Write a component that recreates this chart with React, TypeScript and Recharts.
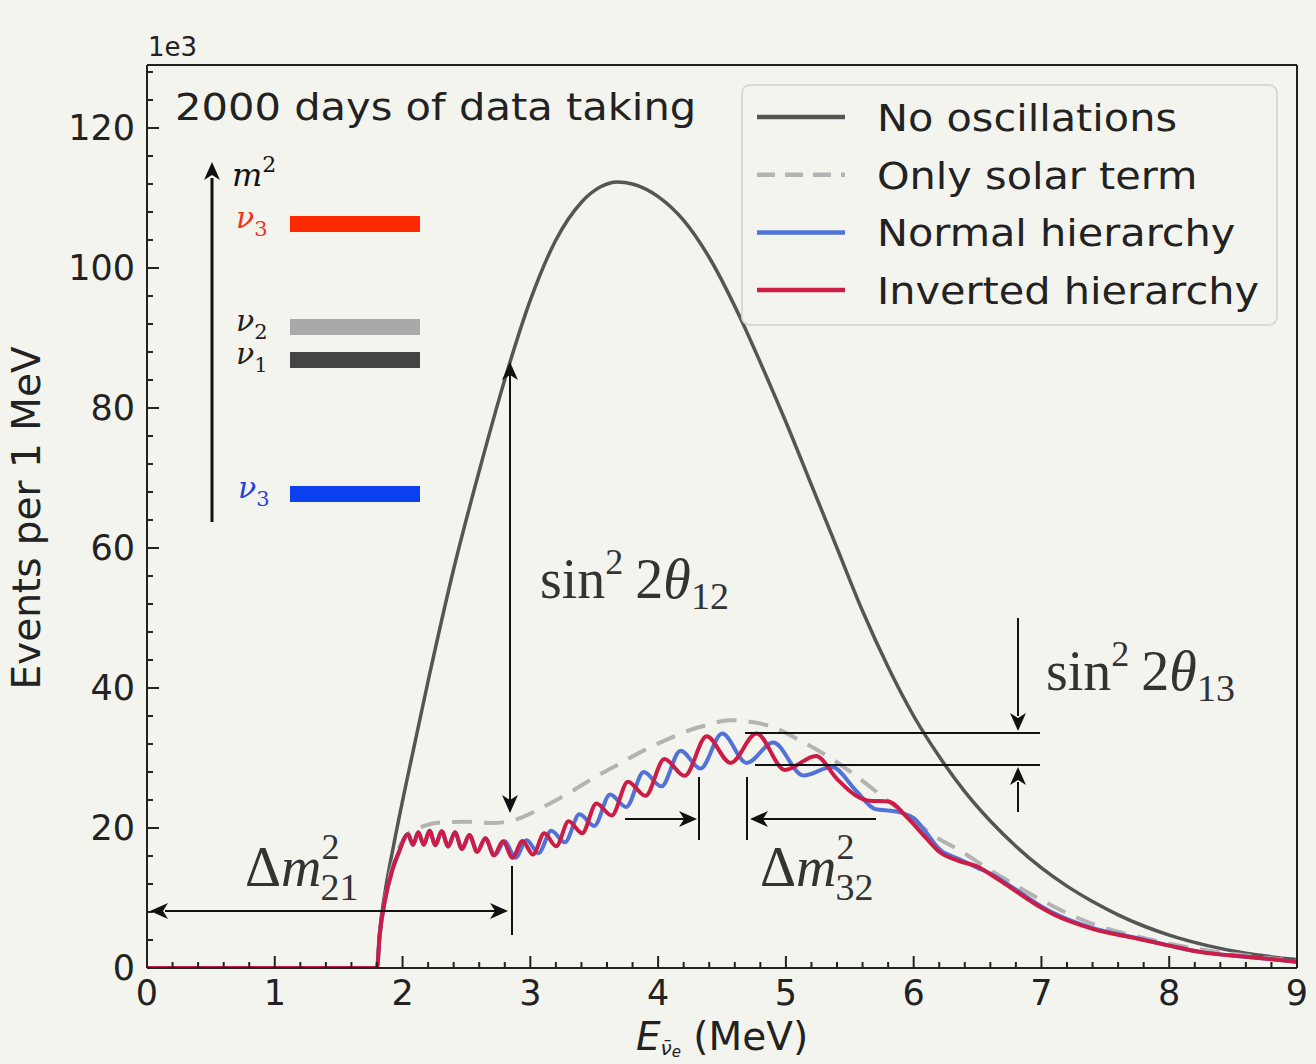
import React from 'react';
import { LineChart, Line, XAxis, YAxis } from 'recharts';

// energies (MeV) and events (x1e3)
const noOscE = [0, 1.8, 1.82, 1.86, 1.93, 2.03, 2.2, 2.4, 2.6, 2.84, 3.0, 3.2, 3.4, 3.55, 3.68, 3.8, 4.0, 4.2, 4.4, 4.64, 4.8, 5.0, 5.2, 5.4, 5.6, 5.8, 6.0, 6.2, 6.4, 6.6, 6.8, 7.0, 7.2, 7.4, 7.6, 7.8, 8.0, 8.3, 8.6, 9.0];
const noOscN = [0, 0, 5, 10.5, 17.5, 26.5, 41, 57, 71, 86.5, 95.4, 104, 109.4, 111.6, 112.3, 112, 110.2, 106.8, 101.5, 93, 86.5, 78, 69, 60, 51, 43, 36, 30.2, 25.2, 21.0, 17.4, 14.3, 11.7, 9.5, 7.6, 6.0, 4.7, 3.2, 2.1, 1.2];

const solarE = [0, 1.8, 1.82, 1.86, 1.92, 1.98, 2.05, 2.14, 2.3, 2.5, 2.7, 2.9, 3.1, 3.31, 3.5, 3.7, 3.9, 4.09, 4.25, 4.38, 4.56, 4.75, 4.9, 5.11, 5.34, 5.56, 5.79, 5.95, 6.15, 6.36, 6.6, 6.8, 7.04, 7.4, 7.8, 8.2, 8.6, 9.0];
const solarN = [0, 0, 4.5, 9.5, 14.5, 17.5, 19.3, 20.1, 20.8, 20.9, 20.7, 21.3, 23.0, 25.1, 27.2, 29.2, 31.2, 32.8, 34.0, 34.7, 35.4, 35.1, 34.4, 32.5, 30.1, 27.3, 24.0, 21.8, 19.0, 16.8, 14.0, 11.8, 9.3, 6.3, 4.3, 2.8, 1.8, 1.0];

const normalE = [0, 1.8, 1.82, 1.86, 1.92, 1.97, 2.042, 2.082, 2.123, 2.166, 2.211, 2.257, 2.306, 2.357, 2.41, 2.465, 2.523, 2.584, 2.648, 2.72, 2.8, 2.883, 2.971, 3.064, 3.164, 3.27, 3.384, 3.5, 3.624, 3.751, 3.887, 4.026, 4.175, 4.332, 4.501, 4.693, 4.901, 5.136, 5.36, 5.55, 5.7, 5.85, 6.0, 6.1, 6.2, 6.35, 6.5, 6.6, 6.75, 7.0, 7.1, 7.4, 7.72, 8.0, 8.24, 8.6, 9.0];
const normalN = [0, 0, 4.5, 9.5, 14, 16.5, 19.1, 17.6, 19.4, 17.6, 19.6, 17.55, 19.55, 17.35, 19.4, 17.0, 19.0, 16.6, 18.55, 16.1, 18.1, 15.75, 18.25, 16.4, 19.6, 17.95, 21.95, 20.3, 24.8, 23.0, 28.0, 25.95, 31.05, 28.5, 33.5, 29.3, 32.2, 27.5, 28.7, 25.3, 22.7, 22.4, 21.4, 19.3, 17.0, 15.6, 14.3, 13.5, 11.8, 8.8, 7.8, 5.7, 4.4, 3.2, 2.3, 1.6, 0.9];

const invertedE = [0, 1.8, 1.82, 1.86, 1.92, 1.97, 2.042, 2.082, 2.123, 2.166, 2.211, 2.257, 2.306, 2.357, 2.41, 2.465, 2.523, 2.584, 2.648, 2.715, 2.786, 2.86, 2.938, 3.021, 3.109, 3.202, 3.3, 3.405, 3.517, 3.637, 3.764, 3.901, 4.049, 4.208, 4.38, 4.567, 4.77, 4.992, 5.236, 5.4, 5.55, 5.65, 5.8, 5.95, 6.1, 6.2, 6.35, 6.5, 6.6, 6.75, 7.0, 7.1, 7.4, 7.72, 8.0, 8.24, 8.6, 9.0];
const invertedN = [0, 0, 4.5, 9.5, 14, 16.5, 19.1, 17.6, 19.4, 17.6, 19.6, 17.55, 19.55, 17.35, 19.4, 17.0, 19.0, 16.6, 18.55, 16.1, 18.1, 15.75, 18.15, 16.2, 19.25, 17.4, 20.95, 19.25, 23.5, 21.8, 26.6, 24.6, 29.85, 27.45, 33.1, 29.3, 33.5, 28.3, 30.3, 27.0, 24.6, 23.9, 23.8, 21.5, 18.5, 16.6, 15.3, 14.5, 13.4, 11.6, 8.6, 7.6, 5.6, 4.3, 3.2, 2.3, 1.6, 0.9];

const xMajor = [0, 1, 2, 3, 4, 5, 6, 7, 8, 9];
const yMajor = [0, 20, 40, 60, 80, 100, 120];

const xTicks = Array.from({ length: 46 }, (_, i) => Math.round(i * 2) / 10);
const yTicks = Array.from({ length: 33 }, (_, i) => i * 4);

const zip = (es: number[], ns: number[]) => es.map((e, i) => ({ e, n: ns[i] }));

const BG = '#f4f4ef';
const INK = '#222';

// plot box in page pixels
const L = 147, R = 1297, T = 65, B = 968;

const XTick = (props: any) => {
  const { x, y, payload } = props;
  const v = payload.value;
  const major = xMajor.includes(v);
  return (
    <g>
      <line x1={x} y1={y} x2={x} y2={y - (major ? 12 : 6)} stroke={INK} strokeWidth={2} />
      {major && (
        <text x={x} y={y + 37} textAnchor="middle" fontSize={35} fill={INK} fontFamily="DejaVu Sans">
          {v}
        </text>
      )}
    </g>
  );
};

const YTick = (props: any) => {
  const { x, y, payload } = props;
  const v = payload.value;
  const major = yMajor.includes(v);
  return (
    <g>
      <line x1={x} y1={y} x2={x + (major ? 12 : 6)} y2={y} stroke={INK} strokeWidth={2} />
      {major && (
        <text x={x - 12} y={y + 12} textAnchor="end" fontSize={35} fill={INK} fontFamily="DejaVu Sans">
          {v}
        </text>
      )}
    </g>
  );
};

const Head = ({ x, y, dir }: { x: number; y: number; dir: 'up' | 'down' | 'left' | 'right' }) => {
  const l = 18, w = 8;
  let pts = '';
  if (dir === 'up') pts = `${x},${y} ${x - w},${y + l} ${x},${y + l - 5} ${x + w},${y + l}`;
  if (dir === 'down') pts = `${x},${y} ${x - w},${y - l} ${x},${y - l + 5} ${x + w},${y - l}`;
  if (dir === 'left') pts = `${x},${y} ${x + l},${y - w} ${x + l - 5},${y} ${x + l},${y + w}`;
  if (dir === 'right') pts = `${x},${y} ${x - l},${y - w} ${x - l + 5},${y} ${x - l},${y + w}`;
  return <polygon points={pts} fill="#111" />;
};

const legendRows = [
  { label: 'No oscillations', color: '#555', dash: undefined as string | undefined },
  { label: 'Only solar term', color: '#b3b3b3', dash: '18 10' },
  { label: 'Normal hierarchy', color: '#5272d8', dash: undefined },
  { label: 'Inverted hierarchy', color: '#cc1d47', dash: undefined },
];

const serif = 'Liberation Serif';
const mathSerif = 'DejaVu Serif';

const Nu = ({ x, y, sub, color }: { x: number; y: number; sub: string; color: string }) => (
  <text x={x} y={y} fontSize={30} fontStyle="italic" fontFamily={mathSerif} fill={color}>
    ν<tspan dy={8} fontSize={21} fontStyle="normal">{sub}</tspan>
  </text>
);

const Overlay = () => (
  <svg width={1316} height={1064} style={{ position: 'absolute', left: 0, top: 0, pointerEvents: 'none' }}>
    {/* frame top / right */}
    <line x1={L} y1={T} x2={R} y2={T} stroke={INK} strokeWidth={2} />
    <line x1={R} y1={T} x2={R} y2={B} stroke={INK} strokeWidth={2} />
    <line x1={L} y1={T} x2={L} y2={B} stroke={INK} strokeWidth={2} />

    <text x={148} y={56} fontSize={26} fill={INK} fontFamily="DejaVu Sans">1e3</text>

    <text transform="translate(175,120) scale(1.125,1)" fontSize={37} fill={INK} fontFamily="DejaVu Sans">
      2000 days of data taking
    </text>

    {/* legend */}
    <rect x={742} y={85} width={535} height={240} rx={8} fill={BG} stroke="#d9d9d4" strokeWidth={2} />
    {legendRows.map((r, i) => {
      const y = 117 + i * 57.7;
      return (
        <g key={r.label}>
          <line x1={757} y1={y} x2={845} y2={y} stroke={r.color} strokeWidth={4.5} strokeDasharray={r.dash} />
          <text transform={`translate(877,${y + 14}) scale(1.12,1)`} fontSize={37} fill={INK} fontFamily="DejaVu Sans">
            {r.label}
          </text>
        </g>
      );
    })}

    {/* mass ordering inset */}
    <line x1={212} y1={522} x2={212} y2={178} stroke="#111" strokeWidth={3} />
    <Head x={212} y={162} dir="up" />
    <text x={232} y={186} fontSize={32} fontStyle="italic" fontFamily={mathSerif} fill="#111">
      m<tspan dy={-14} fontSize={22} fontStyle="normal">2</tspan>
    </text>
    <rect x={290} y={216} width={130} height={16} fill="#ff2a00" />
    <rect x={290} y={319} width={130} height={16} fill="#a9a9a9" />
    <rect x={290} y={352} width={130} height={16} fill="#444" />
    <rect x={290} y={486} width={130} height={16} fill="#0a40f0" />
    <Nu x={236} y={228} sub="3" color="#ee3322" />
    <Nu x={236} y={331} sub="2" color="#222" />
    <Nu x={236} y={364} sub="1" color="#222" />
    <Nu x={238} y={498} sub="3" color="#2244dd" />

    {/* sin^2 2theta12 */}
    <line x1={510} y1={375} x2={510} y2={800} stroke="#111" strokeWidth={2} />
    <Head x={510} y={362} dir="up" />
    <Head x={510} y={813} dir="down" />
    <text x={540} y={598} fontSize={56} fontFamily={serif} fill="#333">
      sin<tspan dy={-24} fontSize={36}>2</tspan>
      <tspan dy={24} dx={12}>2</tspan>
      <tspan fontStyle="italic">θ</tspan>
      <tspan dy={11} fontSize={38}>12</tspan>
    </text>

    {/* delta m^2 21 */}
    <line x1={165} y1={911} x2={495} y2={911} stroke="#111" strokeWidth={2} />
    <Head x={150} y={911} dir="left" />
    <Head x={508} y={911} dir="right" />
    <line x1={512} y1={866} x2={512} y2={935} stroke="#111" strokeWidth={2} />
    <text x={245} y={886} fontSize={56} fontFamily={serif} fill="#333">
      Δ<tspan fontStyle="italic">m</tspan>
      <tspan dy={-27} fontSize={36}>2</tspan>
      <tspan dx={-19} dy={41} fontSize={38}>21</tspan>
    </text>

    {/* delta m^2 32 */}
    <line x1={625} y1={819} x2={685} y2={819} stroke="#111" strokeWidth={2} />
    <Head x={697} y={819} dir="right" />
    <line x1={699} y1={777} x2={699} y2={840} stroke="#111" strokeWidth={2} />
    <line x1={747} y1={777} x2={747} y2={840} stroke="#111" strokeWidth={2} />
    <line x1={762} y1={819} x2={876} y2={819} stroke="#111" strokeWidth={2} />
    <Head x={750} y={819} dir="left" />
    <text x={760} y={886} fontSize={56} fontFamily={serif} fill="#333">
      Δ<tspan fontStyle="italic">m</tspan>
      <tspan dy={-27} fontSize={36}>2</tspan>
      <tspan dx={-19} dy={41} fontSize={38}>32</tspan>
    </text>

    {/* sin^2 2theta13 */}
    <line x1={745} y1={733} x2={1040} y2={733} stroke="#111" strokeWidth={2} />
    <line x1={755} y1={765} x2={1040} y2={765} stroke="#111" strokeWidth={2} />
    <line x1={1018} y1={618} x2={1018} y2={716} stroke="#111" strokeWidth={2} />
    <Head x={1018} y={731} dir="down" />
    <line x1={1018} y1={782} x2={1018} y2={812} stroke="#111" strokeWidth={2} />
    <Head x={1018} y={767} dir="up" />
    <text x={1046} y={690} fontSize={56} fontFamily={serif} fill="#333">
      sin<tspan dy={-24} fontSize={36}>2</tspan>
      <tspan dy={24} dx={12}>2</tspan>
      <tspan fontStyle="italic">θ</tspan>
      <tspan dy={11} fontSize={38}>13</tspan>
    </text>

    {/* axis titles */}
    <text transform="translate(40,518) rotate(-90)" textAnchor="middle" fontSize={39} fill={INK} fontFamily="DejaVu Sans">
      Events per 1 MeV
    </text>
    <text x={722} y={1050} textAnchor="middle" fontSize={39} fill={INK} fontFamily="DejaVu Sans">
      <tspan fontStyle="italic">E</tspan>
      <tspan dy={5} fontSize={20} fontStyle="italic">ν̄</tspan>
      <tspan dy={2} fontSize={15} fontStyle="italic">e</tspan>
      <tspan dy={-7}> (MeV)</tspan>
    </text>
  </svg>
);

export default function App() {
  return (
    <div style={{ position: 'absolute', left: 0, top: 0, width: 1316, height: 1064, background: BG, overflow: 'hidden' }}>
      <LineChart width={1316} height={1064} margin={{ top: T, right: 1316 - R, bottom: 0, left: 0 }}>
        <XAxis
          type="number"
          dataKey="e"
          domain={[0, 9]}
          ticks={xTicks}
          interval={0}
          height={1064 - B}
          tickSize={0}
          tickMargin={0}
          tickLine={false}
          tick={<XTick />}
          axisLine={{ stroke: INK, strokeWidth: 2 }}
          allowDataOverflow
        />
        <YAxis
          type="number"
          dataKey="n"
          domain={[0, 129]}
          ticks={yTicks}
          interval={0}
          width={L}
          tickSize={0}
          tickMargin={0}
          tickLine={false}
          tick={<YTick />}
          axisLine={{ stroke: INK, strokeWidth: 2 }}
          allowDataOverflow
        />
        <Line data={zip(noOscE, noOscN)} dataKey="n" type="monotone" stroke="#555" strokeWidth={3.5} dot={false} isAnimationActive={false} />
        <Line data={zip(solarE, solarN)} dataKey="n" type="monotone" stroke="#b3b3b3" strokeWidth={4} strokeDasharray="20 12" dot={false} isAnimationActive={false} />
        <Line data={zip(normalE, normalN)} dataKey="n" type="monotone" stroke="#5272d8" strokeWidth={4} dot={false} isAnimationActive={false} />
        <Line data={zip(invertedE, invertedN)} dataKey="n" type="monotone" stroke="#cc1d47" strokeWidth={4} dot={false} isAnimationActive={false} />
      </LineChart>
      <Overlay />
    </div>
  );
}
